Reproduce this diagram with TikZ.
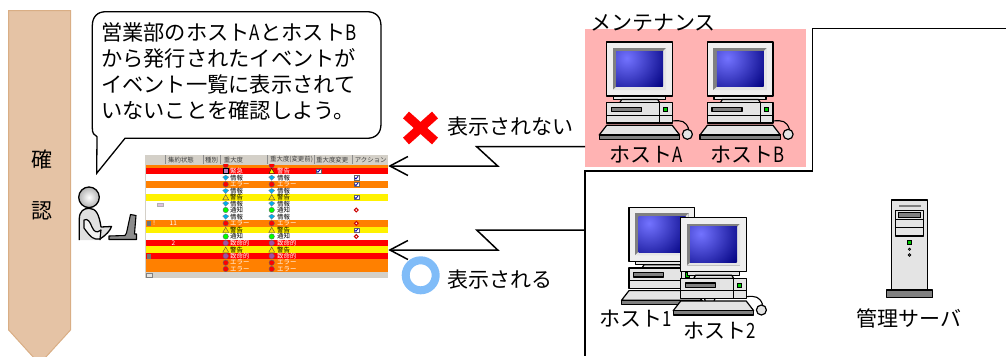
\documentclass[tikz,border=0pt]{standalone}
\usepackage{graphicx}
\usepackage{fontspec}
\setmainfont{Noto Sans CJK JP}
\usetikzlibrary{arrows.meta}
\definecolor{ribfill}{HTML}{E5C3A5}
\definecolor{ribedge}{HTML}{D9AE85}
\definecolor{pinkzone}{HTML}{FFB3B3}
\definecolor{hdrgray}{HTML}{D4D0C8}
\definecolor{evorange}{HTML}{FF8000}
\definecolor{okblue}{HTML}{80BCF8}
\definecolor{pcbody}{HTML}{E4E4E4}
\definecolor{pcdark}{HTML}{808080}
\newcommand{\hc}[1]{\scalebox{0.8}[1]{#1}}
\newcommand{\txtbig}{\fontsize{21.25}{21.25}\selectfont}
\newcommand{\txtmid}{\fontsize{21}{21}\selectfont}
\newcommand{\txttiny}{\fontsize{6.4}{6.4}\selectfont}
\tikzset{
  x=1pt,y=-1pt,
  pcline/.style={draw=black,line width=1.2pt,line join=round},
  msgline/.style={draw=black,line width=1.5pt,line join=miter},
  flow/.style={msgline,-{Straight Barb[length=18pt,width=19pt,line width=1.5pt]}},
  hosttext/.style={font=\txtmid,inner sep=0pt,text=black},
  msgtext/.style={font=\txtbig,inner sep=0pt,anchor=west,text=black},
  hdrtext/.style={font=\txttiny,inner sep=0pt,anchor=west,text=black!75},
  rowtext/.style={font=\txttiny,inner sep=0pt,anchor=west},
  computer/.pic={
    % monitor
    \path[pcline,fill=pcbody!60!white] (0,0) rectangle (65.5,54);
    \fill[pcdark] (6,6) -- (59.5,6) -- (59.5,48) -- (6,48) -- cycle;
    \fill[white!90!black] (59.5,6) -- (59.5,48) -- (6,48) -- (9.5,44.7) -- (56.5,44.7) -- (56.5,9) -- cycle;
    \begin{scope}
      \clip (9.5,9) rectangle (56.5,44.7);
      \shade[inner color=blue!55!white,outer color=blue!50!black] (20,16) circle (46);
    \end{scope}
    % stand
    \path[pcline,fill=pcbody] (6.5,54) rectangle (58.5,57.5);
    \path[pcline,fill=pcbody] (15,57.5) -- (13,60.7) -- (53,60.7) -- (51,57.5) -- cycle;
    % base
    \path[pcline,fill=pcbody] (0,60.7) rectangle (65.5,81);
    \path[pcline,fill=pcdark] (4.5,65.3) rectangle (34.5,69.7);
    \draw[line width=.9pt] (52.7,60.7) -- (52.7,81);
    \draw[line width=.7pt] (0,73) -- (65.5,73);
    \path[draw=black,line width=.8pt,fill=green!80!black] (56.7,65.3) rectangle (60.7,69.7);
    % mouse
    \draw[line width=1.1pt] (65.5,79) .. controls (75,78) and (79,79) .. (82,87);
    \path[pcline,fill=pcbody] (80.7,92.3) circle (5);
    % keyboard
    \path[pcline,fill=pcbody] (0,83.3) -- (65.5,83.3) -- (73,93) -- (-7.5,93) -- cycle;
    \path[pcline,fill=pcdark] (-7.5,93) rectangle (73,97.3);
  }
}
\begin{document}
\begin{tikzpicture}
\useasboundingbox (0,0) rectangle (1006,356);
% ---------- ribbon
\path[draw=ribedge,fill=ribfill,line width=1pt] (8.7,10.5) -- (70.5,10.5) -- (70.5,330) -- (39.5,364) -- (8.7,330) -- cycle;
\node[font=\txtmid,inner sep=0pt] (stepa) at (42,160) {確};
\node[font=\txtmid,inner sep=0pt] (stepb) at (42,211) {認};
% ---------- speech bubble
\path[draw=black,fill=white,line width=1.3pt,line join=miter]
  (106,11.7) -- (367,11.7) .. controls (376,11.7) and (381,17) .. (381,26)
  -- (381,124) .. controls (381,133) and (376,138.3) .. (367,138.3)
  -- (125,138.3) -- (96.7,173.3) -- (97,136.7)
  .. controls (94,135.5) and (92.3,133) .. (92.3,128)
  -- (92.3,26) .. controls (92.3,17) and (97,11.7) .. (106,11.7) -- cycle;
\node[msgtext] (m1) at (101,32) {営業部のホスト\hc{A}とホスト\hc{B}};
\node[msgtext] (m2) at (101,58) {から発行されたイベントが};
\node[msgtext] (m3) at (101,84.5) {イベント一覧に表示されて};
\node[msgtext] (m4) at (101,110.5) {いないことを確認しよう。};
% ---------- person
\path[draw=black,line width=1.3pt,inner color=white,outer color=black!30] (89,197.3) circle (10.3);
\path[draw=black,line width=1.3pt,fill=black!12,line join=round]
  (79.3,240) -- (79.3,219) .. controls (79.3,211) and (84,208.3) .. (89,208.3)
  .. controls (96,208.3) and (99,214) .. (101,227) -- (111.5,226.5)
  .. controls (110,231) and (106,235) .. (100,239) -- (100,240);
\path[draw=black,line width=1.2pt,fill=black!5,line join=round]
  (84,220) .. controls (88,218) and (90,222) .. (92,227)
  .. controls (94,231) and (96,234) .. (101,230) -- (100,239)
  .. controls (94,240) and (91,238) .. (84,228) -- cycle;
\path[draw=black,line width=1.1pt,fill=black!45,line join=round]
  (126.5,233) -- (130.5,214.5) -- (136,215.5) -- (134.5,234) -- (136.5,234) -- (136.5,239.5) -- (109,239.5) -- (109,236) -- (125,235.5) -- cycle;
% ---------- event list
\fill[white] (145,154.7) rectangle (387.7,278);
\fill[hdrgray] (144.7,154.7) rectangle (387.7,164.7);
\fill[hdrgray] (144.7,154.7) rectangle (146,278);
\fill[evorange] (146,164.7) rectangle (387.7,167.7);
\fill[red] (146,167.7) rectangle (387.7,174.3);
\fill[evorange] (146,181) rectangle (387.7,187.7);
\fill[yellow] (146,194) rectangle (387.7,200.7);
\fill[evorange] (146,220) rectangle (387.7,226.7);
\fill[yellow] (146,226.7) rectangle (387.7,233.3);
\fill[red] (146,239.7) rectangle (387.7,246.3);
\fill[yellow] (146,246.3) rectangle (387.7,253);
\fill[red] (146,253) rectangle (387.7,259.3);
\fill[evorange] (146,259.3) rectangle (387.7,272.3);
\fill[hdrgray] (146,272.3) rectangle (387.7,278);
\path[draw=gray,fill=hdrgray!60,line width=.4pt] (146.5,273) rectangle (152,277.5);
\foreach \s in {165.3,203,220.7,267.7,314,352.7}
  \draw[black!45,line width=.6pt] (\s,155.2) -- (\s,164);
\node[hdrtext] (h1) at (168,159.7) {集約状態};
\node[hdrtext] (h2) at (205,159.7) {種別};
\node[hdrtext] (h3) at (223.7,159.7) {重大度};
\node[hdrtext] (h4) at (270,159.7) {重大度(変更前)};
\node[hdrtext] (h5) at (316,159.7) {重大度変更};
\node[hdrtext] (h6) at (354.7,159.7) {アクション};
\newcommand{\rowtxt}[3]{%
  \node[rowtext,text=#3] at (230,#1) {#2};
  \node[rowtext,text=#3] at (277,#1) {#2};
}
\newcommand{\evround}[3]{% y, fill, edge
  \foreach \ix in {225.7,271.7}
    \path[fill=#2,draw=#3,line width=.4pt] (\ix,#1) circle (2.7);
}
\newcommand{\evwarn}[1]{%
  \foreach \ix in {225.7,271.7}
    \path[fill=yellow!80!orange,draw=black!70,line width=.4pt] (\ix-2.9,#1+2.5) -- (\ix,#1-2.7) -- (\ix+2.9,#1+2.5) -- cycle;
}
\newcommand{\evinfo}[1]{%
  \foreach \ix in {225.7,271.7}
    \path[fill=cyan,draw=black!50,line width=.3pt] (\ix-3,#1-.6) -- (\ix,#1-2.5) -- (\ix+3,#1-.6) -- (\ix,#1+2.6) -- cycle;
}
\begin{scope}
  \clip (146,164.7) rectangle (387.7,167.7);
  \evround{165.2}{red}{black!60}
\end{scope}
\evround{184.3}{red}{black!60}\rowtxt{184.3}{エラー}{white}
\evinfo{177.7}\rowtxt{177.7}{情報}{black}
\evinfo{191}\rowtxt{191}{情報}{black}
\evwarn{197.3}\rowtxt{197.3}{警告}{black}
\evinfo{203.7}\rowtxt{203.7}{情報}{black}
\evround{210}{green}{black!60}\rowtxt{210}{通知}{black}
\evinfo{216.7}\rowtxt{216.7}{情報}{black}
\evround{223.3}{red}{black!60}\rowtxt{223.3}{エラー}{white}
\evwarn{230}\rowtxt{230}{警告}{black}
\evround{236.5}{green}{black!60}\rowtxt{236.5}{通知}{black}
\evround{243}{violet!70}{black!60}\rowtxt{243}{致命的}{white}
\evwarn{249.7}\rowtxt{249.7}{警告}{black}
\evround{256}{violet!70}{black!60}\rowtxt{256}{致命的}{white}
\evround{262.7}{red}{black!60}\rowtxt{262.7}{エラー}{white}
\evround{269}{red}{black!60}\rowtxt{269}{エラー}{white}
% row with severity changed
\path[draw=black,line width=.3pt,fill=violet!50] (223,168.4) rectangle (228.4,173.6);
\node[rowtext,text=white] at (230,171) {緊急};
\path[draw=black,line width=.3pt,fill=yellow] (269,173.4) -- (271.7,168.3) -- (274.4,173.4) -- cycle;
\node[rowtext,text=white] at (277,171) {警告};
% action marks
\foreach \cx/\cy in {318.3/171,356.3/177.7,356.3/184.3,356.3/197.3,356.3/230}{
  \path[draw=black!60,fill=white,line width=.3pt] (\cx-2.6,\cy-2.3) rectangle (\cx+2.6,\cy+2.3);
  \draw[blue!70!black,line width=.8pt] (\cx-1.6,\cy) -- (\cx-.4,\cy+1.3) -- (\cx+1.8,\cy-1.4);
}
\foreach \cy in {210,223.3,236.5}
  \path[draw=red!80!black,fill=white,line width=1pt] (356.3,\cy) circle (1.9);
\path[fill=violet!25,draw=black!30,line width=.3pt] (157.5,203.2) rectangle (163,206.5);
\path[fill=black!55] (146.8,221) rectangle (151,225.6);
\path[fill=black!55] (146.8,253.8) rectangle (151,258.6);
\node[rowtext,text=white] at (153,223.3) {!};
\node[rowtext,text=white] at (169.5,223.3) {11};
\node[rowtext,text=white] at (171.5,243) {2};
% ---------- maintenance zone
\fill[pinkzone] (585,28.7) rectangle (805.7,167.3);
\node[font=\txtmid,inner sep=0pt,anchor=west] (zone) at (590,23) {メンテナンス};
\pic at (606.7,42) {computer};
\pic at (707.4,42) {computer};
\node[hosttext] (hA) at (646.5,155) {ホスト\hc{A}};
\node[hosttext] (hB) at (747.5,155) {ホスト\hc{B}};
% ---------- zone boundary
\coordinate (bE) at (1006,28.7);
\coordinate (bS) at (585,356);
\draw[black,line width=1.3pt,line join=miter] (bE) -- (812.3,28.7) -- (812.3,171) -- (585,171) -- (bS);
% ---------- lower hosts
\pic at (629,207.3) {computer};
\pic at (680.7,217.7) {computer};
\node[hosttext] (h1t) at (636,319) {ホスト\hc{1}};
\node[hosttext] (h2t) at (720,330.5) {ホスト\hc{2}};
% ---------- server
\path[pcline,fill=pcbody] (891.7,200) rectangle (927.7,290);
\fill[pcdark] (899,205) rectangle (921,207.3);
\path[pcline,fill=pcbody] (895.7,210.7) rectangle (923.3,236);
\draw[line width=1pt] (895.7,219) -- (923.3,219);
\draw[line width=1pt] (895.7,227.3) -- (923.3,227.3);
\path[draw=black,line width=.8pt,fill=pcdark] (898.5,212.7) rectangle (920.7,217);
\path[draw=black,line width=.8pt,fill=green!80!black] (907.5,240.2) rectangle (911.5,244.3);
\path[draw=black,line width=.6pt,fill=pcdark] (909.5,249.3) circle (1.2);
\path[draw=black,line width=.6pt,fill=pcdark] (909.5,255) circle (1.4);
\path[pcline,fill=pcdark] (886.7,290) rectangle (932.7,297.5);
\node[hosttext] (srv) at (909,318) {管理サーバ};
% ---------- result marks and labels
\draw[red,line width=9pt] (406,115) -- (435,141);
\draw[red,line width=9pt] (435,115) -- (406,141);
\node[msgtext,font=\txtmid] (ng) at (447.5,126.7) {表示されない};
\draw[okblue,line width=8pt] (420.7,275.3) circle (15);
\node[msgtext,font=\txtmid] (ok) at (447.5,280) {表示される};
% ---------- connectors
\coordinate (evA) at (388.3,166);
\coordinate (evB) at (388.3,250);
\coordinate (srcA) at (585,146.7);
\coordinate (srcB) at (585,230);
\draw[flow] (srcA) -- (476.7,146.7) -- (497.7,166) -- (evA);
\draw[flow] (srcB) -- (476.7,230) -- (497.7,250) -- (evB);
\end{tikzpicture}
\end{document}
